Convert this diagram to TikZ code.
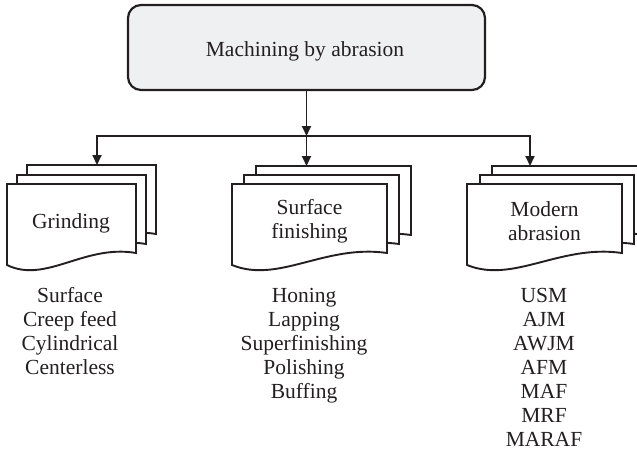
\documentclass[tikz,border=0pt]{standalone}
\usepackage{fontspec}
\setmainfont{Liberation Serif}
\usetikzlibrary{arrows.meta}
\definecolor{ink}{HTML}{231F20}
\definecolor{boxfill}{HTML}{EFF0F2}
\tikzset{
  topbox/.style={draw=ink, fill=boxfill, line width=2.2pt, rounded corners=13pt,
    minimum width=357pt, minimum height=85pt, inner sep=0pt, text=ink},
  docpage/.style={draw=ink, fill=white, line width=1.9pt, line join=miter},
  arr/.style={draw=ink, line width=1.9pt, -{Triangle[length=10pt,width=9pt]}},
  lbl/.style={text=ink, inner sep=0pt, align=center, font=\fontsize{21.5}{24}\selectfont},
}
\newcommand{\docshape}[3]{%
  \begin{scope}[shift={(#1,#2)}]
    \filldraw[docpage] (0,0) -- (#3,0) -- (#3,69) .. controls ({0.6*#3},60) and ({0.3*#3},100) .. (0,81) -- cycle;
  \end{scope}}
\begin{document}
\begin{tikzpicture}[x=1pt,y=-1pt]
\clip (0,0) rectangle (637,453);
\fill[white] (0,0) rectangle (637,453);
% root
\node[topbox, font=\fontsize{21.5}{24}\selectfont] (root) at (306.5,47.5) {};
\node[lbl, anchor=base] (roottext) at (305,56) {Machining by abrasion};
\coordinate (j) at (306.5,136);
\coordinate (gtop) at (97,165);
\coordinate (stop) at (306.5,166);
\coordinate (mtop) at (530,166);
% stacks
\docshape{27}{165}{129}
\docshape{17}{175}{129}
\docshape{7}{184}{129}
\docshape{256}{166}{155}
\docshape{244}{175}{155}
\docshape{232}{184}{155}
\docshape{492}{166}{155}
\docshape{480}{175}{154}
\docshape{467}{184}{155}
% connectors
\draw[arr] (root.south) -- (j);
\draw[arr] (j) -| (gtop);
\draw[arr] (j) -- (stop);
\draw[arr] (j) -| (mtop);
% labels (base = baseline of last line)
\node[lbl, anchor=base] (gl) at (71,228) {Grinding};
\node[lbl, anchor=base] (sl) at (309.5,238) {Surface\\finishing};
\node[lbl, anchor=base] (ml) at (544.5,240) {Modern\\abrasion};
% lists
\node[lbl, anchor=base] (glist) at (70,374) {Surface\\Creep feed\\Cylindrical\\Centerless};
\node[lbl, anchor=base] (slist) at (304,398) {Honing\\Lapping\\Superfinishing\\Polishing\\Buffing};
\node[lbl, anchor=base] (mlist) at (544,446) {USM\\AJM\\AWJM\\AFM\\MAF\\MRF\\MARAF};
\end{tikzpicture}
\end{document}
